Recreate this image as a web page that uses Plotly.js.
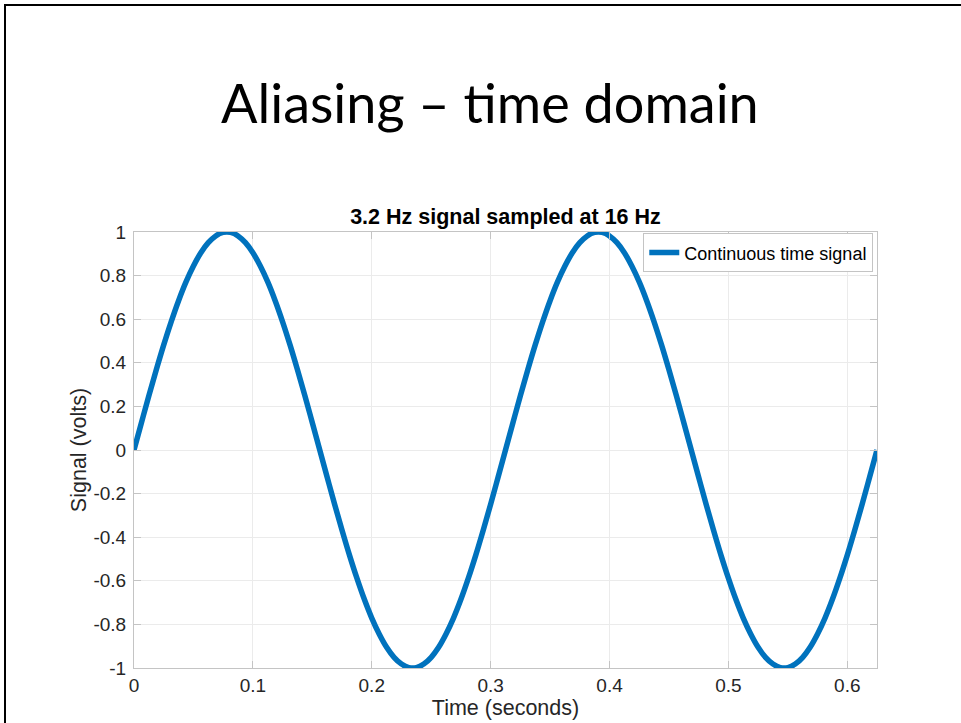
<!DOCTYPE html>
<html>
<head>
<meta charset="utf-8">
<script src="https://cdn.plot.ly/plotly-3.0.1.min.js"></script>
<style>
  html, body { margin: 0; padding: 0; background: #ffffff; }
  #frame { position: absolute; left: 4px; top: 4px; width: 970px; height: 730px;
           border-top: 2px solid #000; border-left: 2px solid #000; box-sizing: border-box; }
  #chart { position: absolute; left: 0; top: 0; width: 961px; height: 723px; }
</style>
</head>
<body>
<div id="frame"></div>
<div id="chart"></div>
<script>
// Time samples (seconds) of the continuous 3.2 Hz signal
const timeSec = [
  0, 0.00625, 0.0125, 0.01875, 0.025, 0.03125, 0.0375, 0.04375, 0.05, 0.05625,
  0.0625, 0.06875, 0.075, 0.08125, 0.0875, 0.09375, 0.1, 0.10625, 0.1125, 0.11875,
  0.125, 0.13125, 0.1375, 0.14375, 0.15, 0.15625, 0.1625, 0.16875, 0.175, 0.18125,
  0.1875, 0.19375, 0.2, 0.20625, 0.2125, 0.21875, 0.225, 0.23125, 0.2375, 0.24375,
  0.25, 0.25625, 0.2625, 0.26875, 0.275, 0.28125, 0.2875, 0.29375, 0.3, 0.30625,
  0.3125, 0.31875, 0.325, 0.33125, 0.3375, 0.34375, 0.35, 0.35625, 0.3625, 0.36875,
  0.375, 0.38125, 0.3875, 0.39375, 0.4, 0.40625, 0.4125, 0.41875, 0.425, 0.43125,
  0.4375, 0.44375, 0.45, 0.45625, 0.4625, 0.46875, 0.475, 0.48125, 0.4875, 0.49375,
  0.5, 0.50625, 0.5125, 0.51875, 0.525, 0.53125, 0.5375, 0.54375, 0.55, 0.55625,
  0.5625, 0.56875, 0.575, 0.58125, 0.5875, 0.59375, 0.6, 0.60625, 0.6125, 0.61875,
  0.625
];
// Signal amplitude (volts)
const signalVolts = [
  0, 0.125, 0.249, 0.368, 0.482, 0.588, 0.685, 0.771, 0.844, 0.905,
  0.951, 0.982, 0.998, 0.998, 0.982, 0.951, 0.905, 0.844, 0.771, 0.685,
  0.588, 0.482, 0.368, 0.249, 0.125, 0, -0.125, -0.249, -0.368, -0.482,
  -0.588, -0.685, -0.771, -0.844, -0.905, -0.951, -0.982, -0.998, -0.998, -0.982,
  -0.951, -0.905, -0.844, -0.771, -0.685, -0.588, -0.482, -0.368, -0.249, -0.125,
  0, 0.125, 0.249, 0.368, 0.482, 0.588, 0.685, 0.771, 0.844, 0.905,
  0.951, 0.982, 0.998, 0.998, 0.982, 0.951, 0.905, 0.844, 0.771, 0.685,
  0.588, 0.482, 0.368, 0.249, 0.125, 0, -0.125, -0.249, -0.368, -0.482,
  -0.588, -0.685, -0.771, -0.844, -0.905, -0.951, -0.982, -0.998, -0.998, -0.982,
  -0.951, -0.905, -0.844, -0.771, -0.685, -0.588, -0.482, -0.368, -0.249, -0.125,
  0
];
const xTicks = [0, 0.1, 0.2, 0.3, 0.4, 0.5, 0.6];
const xTickText = ['0', '0.1', '0.2', '0.3', '0.4', '0.5', '0.6'];
const yTicks = [-1, -0.8, -0.6, -0.4, -0.2, 0, 0.2, 0.4, 0.6, 0.8, 1];
const yTickText = ['-1', '-0.8', '-0.6', '-0.4', '-0.2', '0', '0.2', '0.4', '0.6', '0.8', '1'];

const sans = 'Liberation Sans, Arial, Helvetica, sans-serif';
const tickFont = { family: sans, size: 19, color: '#262626' };
const labelFont = { family: sans, size: 21.5, color: '#262626' };

const traces = [{
  x: timeSec,
  y: signalVolts,
  type: 'scatter',
  mode: 'lines',
  name: 'Continuous time signal',
  line: { color: '#0072BD', width: 5.5, shape: 'spline', smoothing: 1 }
}];

const commonAxis = {
  showgrid: true,
  gridcolor: '#ebebeb',
  gridwidth: 1,
  zeroline: false,
  showline: true,
  linecolor: '#c4c4c4',
  linewidth: 1,
  mirror: 'ticks',
  ticks: 'inside',
  ticklen: 7,
  tickcolor: '#c4c4c4',
  tickfont: tickFont
};

const layout = {
  width: 961,
  height: 723,
  paper_bgcolor: 'rgba(0,0,0,0)',
  plot_bgcolor: '#ffffff',
  margin: { l: 134, r: 84, t: 232, b: 55 },
  showlegend: true,
  title: {
    text: '<b>3.2 Hz signal sampled at 16 Hz</b>',
    font: { family: sans, size: 21.5, color: '#000000' },
    x: 0.5, xref: 'paper', xanchor: 'center',
    y: 1, yref: 'paper', yanchor: 'bottom', pad: { b: 8 }
  },
  xaxis: Object.assign({}, commonAxis, {
    range: [0, 0.625],
    tickvals: xTicks,
    ticktext: xTickText,
    ticklabelstandoff: 0,
    title: { text: 'Time (seconds)', font: labelFont, standoff: 0 }
  }),
  yaxis: Object.assign({}, commonAxis, {
    range: [-1, 1],
    tickvals: yTicks,
    ticktext: yTickText,
    ticklabelstandoff: 3,
    title: { text: 'Signal (volts)', font: labelFont, standoff: 0 }
  }),
  legend: {
    x: 0.995, xanchor: 'right', y: 0.997, yanchor: 'top',
    bgcolor: '#ffffff', bordercolor: '#c4c4c4', borderwidth: 1,
    font: { family: sans, size: 18, color: '#000000' },
    itemwidth: 30, tracegroupgap: 0
  },
  annotations: [{
    text: 'Aliasing – time domain',
    xref: 'paper', yref: 'paper',
    x: 0.4785, y: 1.298, xanchor: 'center', yanchor: 'middle',
    showarrow: false,
    font: { family: 'Lato, Carlito, Calibri, sans-serif', size: 54, color: '#000000' }
  }]
};

Plotly.newPlot('chart', traces, layout, { displayModeBar: false, staticPlot: true });
</script>
</body>
</html>
